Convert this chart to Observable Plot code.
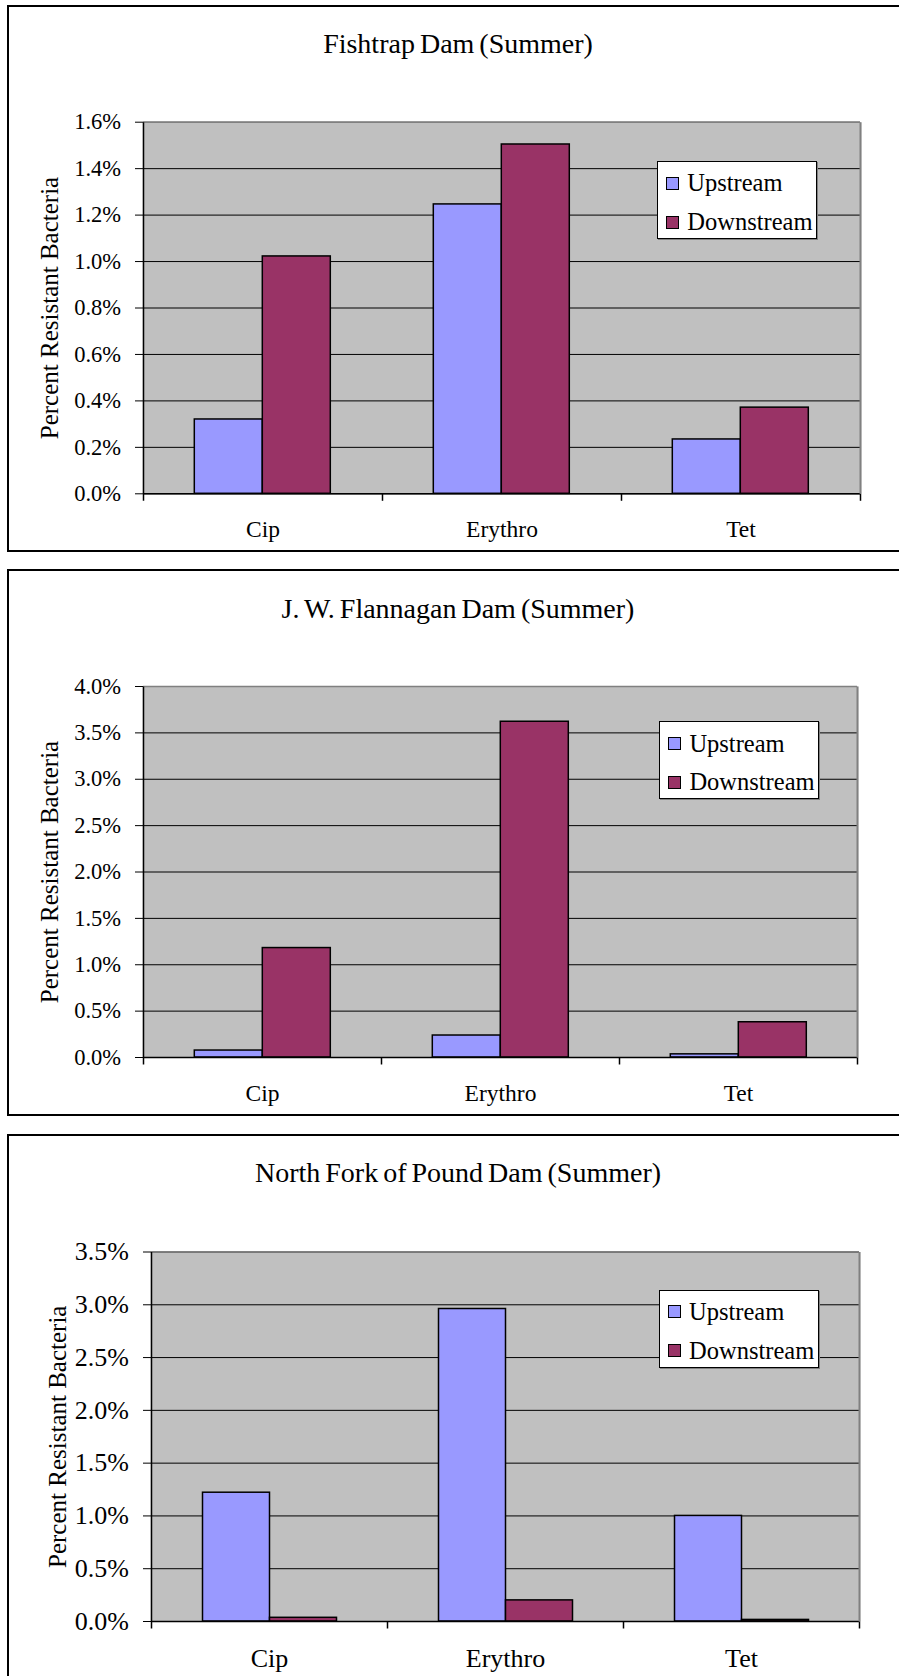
<!DOCTYPE html>
<html><head><meta charset="utf-8">
<script src="https://cdn.jsdelivr.net/npm/d3@7"></script>
<script src="https://cdn.jsdelivr.net/npm/@observablehq/plot@0.6"></script>
<style>
html,body{margin:0;padding:0;background:#fff;}
body{position:relative;width:899px;height:1676px;overflow:hidden;}
.panel{position:absolute;left:7px;width:1000px;height:543px;border:2px solid #000;background:#fff;font-family:"Liberation Serif",serif;}
.title{position:absolute;left:0;width:898px;text-align:center;font-size:28px;line-height:28px;color:#000;white-space:nowrap;word-spacing:-2px;}
.panel svg{position:absolute;left:0;top:0;}
.legend{position:absolute;background:#fff;border:1px solid #000;box-shadow:1px 1px 0 #808080;box-sizing:border-box;width:160px;height:78px;font-size:24.5px;color:#000;}
.item{position:absolute;left:8px;height:28px;display:flex;align-items:center;white-space:nowrap;}
.sw{width:11px;height:11px;border:1.5px solid #000;margin-right:8px;}
[aria-label="ylabel"] text{letter-spacing:0.2px;}
</style></head><body>
<script>
const categories = ["Cip", "Erythro", "Tet"];
const series = ["Upstream", "Downstream"];
const colors = ["#9999FF", "#993366"];
const titles = ["Fishtrap Dam (Summer)", "J. W. Flannagan Dam (Summer)", "North Fork of Pound Dam (Summer)"];
const yLabel = "Percent Resistant Bacteria";
const fishtrapUp = [0.32, 1.246, 0.234];
const fishtrapDown = [1.022, 1.504, 0.371];
const flannaganUp = [0.075, 0.237, 0.034];
const flannaganDown = [1.18, 3.62, 0.38];
const poundUp = [1.22, 2.96, 1.0];
const poundDown = [0.035, 0.2, 0.015];
const ticks1 = [0, 0.2, 0.4, 0.6, 0.8, 1.0, 1.2, 1.4, 1.6];
const ticks2 = [0, 0.5, 1.0, 1.5, 2.0, 2.5, 3.0, 3.5, 4.0];
const ticks3 = [0, 0.5, 1.0, 1.5, 2.0, 2.5, 3.0, 3.5];

const panels = [
  {top: 5, title: titles[0], up: fishtrapUp, down: fishtrapDown, ticks: ticks1,
   ml: 133.7, mr: 39, mt: 114.7, mb: 56.7, tickFont: 22.5, catFont: 23.5, titleTop: 23, lgLeft: 648.3, lgTop: 154},
  {top: 569, title: titles[1], up: flannaganUp, down: flannaganDown, ticks: ticks2,
   ml: 133.7, mr: 41, mt: 115, mb: 57, tickFont: 22.5, catFont: 23.5, titleTop: 24, lgLeft: 650.4, lgTop: 150.4},
  {top: 1134, title: titles[2], up: poundUp, down: poundDown, ticks: ticks3,
   ml: 140.5, mr: 39, mt: 115.5, mb: 58, tickFont: 26, catFont: 26, titleTop: 23, lgLeft: 650, lgTop: 153.5}
];

function vline(y0, y1) {
  return {draw(ctx) { ctx.moveTo(0, y0); ctx.lineTo(0, y1); }};
}

panels.forEach((p) => {
  const div = document.createElement("div");
  div.className = "panel";
  div.style.top = p.top + "px";
  document.body.appendChild(div);

  const t = document.createElement("div");
  t.className = "title";
  t.textContent = p.title;
  t.style.top = p.titleTop + "px";
  div.appendChild(t);

  const rows = [];
  categories.forEach((c, j) => {
    rows.push({cat: c, series: series[0], value: p.up[j]});
    rows.push({cat: c, series: series[1], value: p.down[j]});
  });
  const W = 890, H = 543;
  const plotH = H - p.mt - p.mb;
  const ymax = p.ticks[p.ticks.length - 1];
  const first = categories[0];
  const last = categories[categories.length - 1];

  const chart = Plot.plot({
    width: W, height: H,
    marginLeft: p.ml, marginRight: p.mr, marginTop: p.mt, marginBottom: p.mb,
    style: {fontFamily: '"Liberation Serif", serif', background: "transparent", overflow: "visible", color: "#000"},
    fx: {domain: categories, padding: 0, label: null},
    x: {domain: series, paddingInner: 0, paddingOuter: 0.737, axis: null},
    y: {domain: [0, ymax], axis: null},
    color: {domain: series, range: colors},
    marks: [
      Plot.frame({fill: "#C0C0C0", insetLeft: -0.8, insetRight: -0.8}),
      Plot.ruleY(p.ticks, {stroke: "#000", strokeWidth: 1}),
      Plot.barY(rows, {fx: "cat", x: "series", y: "value", fill: "series", stroke: "#000", strokeWidth: 1.5}),
      Plot.ruleY([ymax], {stroke: "#808080", strokeWidth: 1.5}),
      Plot.ruleY([0], {stroke: "#000", strokeWidth: 1.5}),
      Plot.dot([first], {fx: d => d, x: null, y: null, frameAnchor: "bottom-left", symbol: vline(-plotH, 7), stroke: "#000", strokeWidth: 1.5, fill: "none"}),
      Plot.dot(categories.slice(1), {fx: d => d, x: null, y: null, frameAnchor: "bottom-left", symbol: vline(0, 7), stroke: "#000", strokeWidth: 1.5, fill: "none"}),
      Plot.dot([last], {fx: d => d, x: null, y: null, frameAnchor: "bottom-right", symbol: vline(-plotH, 0), stroke: "#808080", strokeWidth: 2, fill: "none"}),
      Plot.dot([last], {fx: d => d, x: null, y: null, frameAnchor: "bottom-right", symbol: vline(0, 7), stroke: "#000", strokeWidth: 1.5, fill: "none"}),
      Plot.axisY({ticks: p.ticks, anchor: "left", tickSize: 8, tickPadding: 14.5, tickFormat: d => d.toFixed(1) + "%", fontSize: p.tickFont, label: null}),
      Plot.text([yLabel], {fx: () => first, x: null, y: null, text: d => d, frameAnchor: "left", rotate: -90, dx: -103,
                           lineAnchor: "top", textAnchor: "middle", fontSize: 25, fill: "#000", ariaLabel: "ylabel"}),
      Plot.axisFx({anchor: "bottom", tickSize: 0, tickPadding: 27, fontSize: p.catFont, label: null})
    ]
  });
  div.appendChild(chart);

  const lg = document.createElement("div");
  lg.className = "legend";
  lg.style.left = p.lgLeft + "px";
  lg.style.top = p.lgTop + "px";
  series.forEach((s, k) => {
    const it = document.createElement("div");
    it.className = "item";
    it.style.top = (k === 0 ? 7.4 : 46) + "px";
    const sw = document.createElement("span");
    sw.className = "sw";
    sw.style.background = colors[k];
    const tx = document.createElement("span");
    tx.textContent = s;
    it.appendChild(sw); it.appendChild(tx);
    lg.appendChild(it);
  });
  div.appendChild(lg);
});
</script>
</body></html>
